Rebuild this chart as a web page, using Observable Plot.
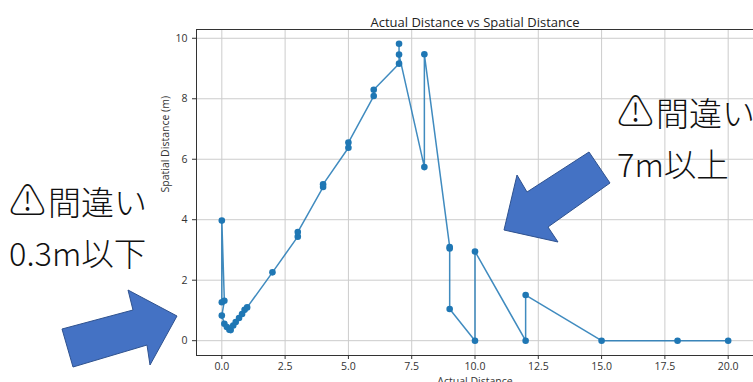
<!DOCTYPE html>
<html>
<head>
<meta charset="utf-8">
<script src="https://cdn.jsdelivr.net/npm/d3@7"></script>
<script src="https://cdn.jsdelivr.net/npm/@observablehq/plot@0.6"></script>
<style>
  body { margin: 0; background: #fff; }
  #wrap { position: relative; width: 753px; height: 382px; overflow: hidden; background: #fff; }
  #wrap > svg { position: absolute; left: 0; top: 0; }
  #overlay { position: absolute; left: 0; top: 0; pointer-events: none; }
</style>
</head>
<body>
<div id="wrap"></div>
<script>
// Data (in plotted order)
const actualDistance = [0, 0, 0.1, 0, 0.1, 0.2, 0.3, 0.35, 0.45, 0.55, 0.68, 0.8, 0.9, 1.0,
  2, 3, 3, 4, 4, 5, 5, 6, 6, 7, 7, 7, 8, 8, 9, 9, 9, 10, 10, 12, 12, 15, 18, 20];
const spatialDistance = [1.27, 3.97, 1.32, 0.83, 0.56, 0.45, 0.36, 0.35, 0.5, 0.62, 0.75, 0.88, 1.02, 1.1,
  2.26, 3.44, 3.59, 5.08, 5.17, 6.38, 6.55, 8.09, 8.3, 9.16, 9.82, 9.46, 5.74, 9.47, 3.1, 3.05, 1.05, 0, 2.95, 0, 1.51, 0, 0, 0];
const xTicks = [0, 2.5, 5, 7.5, 10, 12.5, 15, 17.5, 20];
const yTicks = [0, 2, 4, 6, 8, 10];
const titleText = "Actual Distance vs Spatial Distance";
const xLabel = "Actual Distance";
const yLabel = "Spatial Distance (m)";
const warnSign = "⚠";
const noteLeft = ["間違い", "0.3m以下"];
const noteRight = ["間違い", "7m以上"];

const data = actualDistance.map((a, i) => ({a, s: spatialDistance[i]}));
const blue = "#1f77b4";

const chart = Plot.plot({
  width: 753, height: 382,
  marginTop: 29, marginBottom: 27, marginLeft: 196, marginRight: 0,
  style: {fontFamily: "'Open Sans', sans-serif", fontSize: "10.5px", color: "#333", background: "#fff"},
  x: {domain: [-1, 21], label: null},
  y: {domain: [-0.49, 10.29], label: null},
  marks: [
    Plot.gridX(xTicks, {stroke: "#cccccc", strokeOpacity: 1, strokeWidth: 1}),
    Plot.gridY(yTicks, {stroke: "#cccccc", strokeOpacity: 1, strokeWidth: 1}),
    Plot.axisX(xTicks, {tickFormat: d => d.toFixed(1), tickSize: 4, tickPadding: 3, label: null, stroke: "#333"}),
    Plot.axisY(yTicks, {tickFormat: d => String(d), tickSize: 4, tickPadding: 5, label: null, stroke: "#333"}),
    Plot.line(data, {x: "a", y: "s", stroke: blue, strokeWidth: 1.5, strokeOpacity: 0.85}),
    Plot.dot(data, {x: "a", y: "s", r: 3.3, fill: blue, stroke: "none"}),
    Plot.frame({stroke: "#333", strokeWidth: 1}),
    Plot.text([titleText], {frameAnchor: "top", dy: -12, fontSize: 13, fill: "#222"}),
    Plot.text([xLabel], {frameAnchor: "bottom", dy: 22, lineAnchor: "top", fontSize: 10.5, fill: "#333"}),
    Plot.text([yLabel], {frameAnchor: "left", dx: -31, rotate: -90, fontSize: 10.5, fill: "#333"})
  ]
});
document.getElementById("wrap").appendChild(chart);

// Callout overlay (pasted annotations on top of the chart)
const ov = d3.select("#wrap").append("svg")
  .attr("id", "overlay").attr("width", 753).attr("height", 382);

const arrowLeft = [[62,329],[133,310],[128,290],[177,316],[150,365],[147,345],[73,367]];
const arrowRight = [[504,230],[517,175],[527,192],[589,152],[610,183],[548,227],[558,242]];
[arrowLeft, arrowRight].forEach(pts => {
  ov.append("polygon")
    .attr("points", pts.map(p => p.join(",")).join(" "))
    .attr("fill", "#4472c4").attr("stroke", "#2f528f").attr("stroke-width", 1);
});

const jpFont = "'Noto Sans CJK JP', 'DejaVu Sans', sans-serif";
function note(lines, x, ys) {
  const t1 = ov.append("text").attr("x", x).attr("y", ys[0])
    .attr("font-family", jpFont).attr("font-size", 33).attr("font-weight", 300).attr("fill", "#111");
  t1.append("tspan").attr("font-size", 37).text(warnSign);
  t1.append("tspan").attr("dx", 2).text(lines[0]);
  ov.append("text").attr("x", x).attr("y", ys[1])
    .attr("font-family", jpFont).attr("font-size", 32.5).attr("font-weight", 300)
    .attr("fill", "#111").text(lines[1]);
}
note(noteLeft, 9, [215, 266]);
note(noteRight, 617, [126, 177]);
</script>
</body>
</html>
